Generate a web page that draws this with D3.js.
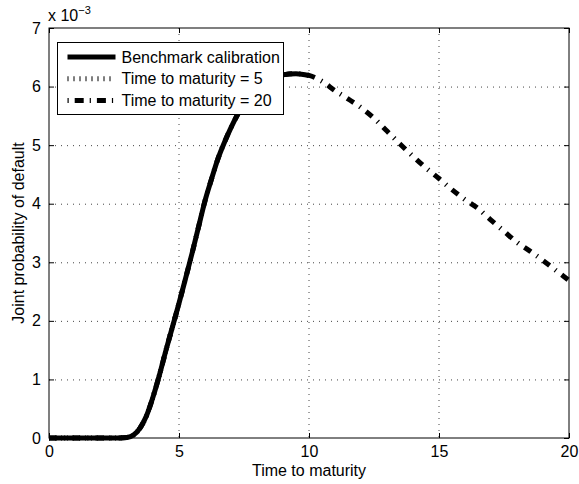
<!DOCTYPE html>
<html>
<head>
<meta charset="utf-8">
<script src="https://cdn.jsdelivr.net/npm/d3@7"></script>
<style>
  body { margin: 0; background: #fff; }
  svg { display: block; font-family: "Liberation Sans", Arial, sans-serif; }
</style>
</head>
<body>
<div id="chart"></div>
<script>
// time to maturity (years)
var times = [0, 0.5, 1, 1.5, 2, 2.5, 3, 3.25, 3.5, 3.75, 4, 4.25, 4.5, 4.75, 5,
  5.25, 5.5, 5.75, 6, 6.25, 6.5, 6.75, 7, 7.25, 7.5, 8, 8.5, 9, 9.5, 10,
  10.5, 11, 11.5, 12, 12.5, 13, 13.5, 14, 14.5, 15, 15.5, 16, 16.5, 17,
  17.5, 18, 18.5, 19, 19.5, 20];
// joint probability of default, in units of 1e-3
var jointPd = [0, 0, 0, 0, 0, 0, 0.01, 0.05, 0.17, 0.38, 0.7, 1.08, 1.5, 1.9, 2.3,
  2.72, 3.15, 3.6, 4.05, 4.42, 4.77, 5.05, 5.3, 5.52, 5.7, 5.96, 6.12, 6.2, 6.22, 6.19,
  6.09, 5.93, 5.79, 5.64, 5.46, 5.24, 5.02, 4.81, 4.61, 4.43, 4.24, 4.07, 3.92, 3.72,
  3.53, 3.34, 3.19, 3.03, 2.86, 2.69];
var seriesNames = ["Benchmark calibration", "Time to maturity = 5", "Time to maturity = 20"];
var seriesEnd = [10, 5, 20];
var xTicks = [0, 5, 10, 15, 20];
var yTicks = [0, 1, 2, 3, 4, 5, 6, 7];

var width = 579, height = 484;
var margin = {top: 28, right: 10, bottom: 46, left: 49};
var w = width - margin.left - margin.right,
    h = height - margin.top - margin.bottom;
var fs = "16px";

var svg = d3.select("#chart").append("svg")
  .attr("width", width)
  .attr("height", height);
var main = svg.append("g")
  .attr("transform", "translate(" + margin.left + "," + margin.top + ")");

var x = d3.scaleLinear().domain([0, 20]).range([0, w]);
var y = d3.scaleLinear().domain([0, 7]).range([h, 0]);

// grid
main.append("g").selectAll("line").data(xTicks.slice(1, -1)).enter().append("line")
  .attr("x1", function (d) { return x(d); }).attr("x2", function (d) { return x(d); })
  .attr("y1", 0).attr("y2", h)
  .attr("stroke", "#444").attr("stroke-width", 1).attr("stroke-dasharray", "1,5");
main.append("g").selectAll("line").data(yTicks.slice(1, -1)).enter().append("line")
  .attr("y1", function (d) { return y(d) + 0.5; }).attr("y2", function (d) { return y(d) + 0.5; })
  .attr("x1", 0).attr("x2", w)
  .attr("stroke", "#444").attr("stroke-width", 1).attr("stroke-dasharray", "1,5");

// axes, ticks inside like matlab
var fmt = d3.format("d");
var axB = d3.axisBottom(x).tickValues(xTicks).tickSize(-5).tickPadding(8).tickFormat(fmt);
var axL = d3.axisLeft(y).tickValues(yTicks).tickSize(-5).tickPadding(8).tickFormat(fmt);
var axT = d3.axisTop(x).tickValues(xTicks).tickSize(-5).tickFormat("");
var axR = d3.axisRight(y).tickValues(yTicks).tickSize(-5).tickFormat("");

[ [axB, "translate(0," + h + ")"], [axL, null], [axT, null], [axR, "translate(" + w + ",0)"] ]
  .forEach(function (a) {
    var g = main.append("g").call(a[0]);
    if (a[1]) g.attr("transform", a[1]);
    g.select(".domain").remove();
    g.selectAll("text").attr("font-size", fs).attr("fill", "#000")
      .style("font-family", "Liberation Sans, Arial, sans-serif");
  });

main.append("rect")
  .attr("x", 0).attr("y", 0).attr("width", w).attr("height", h)
  .attr("fill", "none").attr("stroke", "#000").attr("stroke-width", 1);

// exponent label
var ex = svg.append("text")
  .attr("x", 48).attr("y", 21)
  .attr("font-size", fs);
ex.append("tspan").text("x 10");
ex.append("tspan").attr("dy", -7).attr("font-size", "11px").text("\u22123");

// lines
var pts = times.map(function (t, i) { return [t, jointPd[i]]; });
var line = d3.line()
  .curve(d3.curveMonotoneX)
  .x(function (d) { return x(d[0]); })
  .y(function (d) { return y(d[1]); });

var styles = [
  {dash: null, width: 5},
  {dash: "1,5", width: 5},
  {dash: "8,7,1.2,7", width: 5}
];
var drawOrder = [2, 1, 0];
main.selectAll("path.series").data(drawOrder).enter().append("path")
  .attr("class", "series")
  .attr("d", function (k) {
    return line(pts.filter(function (p) { return p[0] <= seriesEnd[k]; }));
  })
  .attr("fill", "none")
  .attr("stroke", "#000")
  .attr("stroke-width", function (k) { return styles[k].width; })
  .attr("stroke-dasharray", function (k) { return styles[k].dash; })
  .attr("stroke-linecap", "butt");

// legend
var leg = svg.append("g").attr("transform", "translate(57.5,42.5)");
leg.append("rect")
  .attr("width", 226).attr("height", 72)
  .attr("fill", "#fff").attr("stroke", "#000").attr("stroke-width", 1);
var rows = leg.selectAll("g.row").data(seriesNames).enter().append("g")
  .attr("transform", function (d, i) { return "translate(0," + (14.5 + i * 21.7) + ")"; });
rows.append("line")
  .attr("x1", 10).attr("x2", 58).attr("y1", 0).attr("y2", 0)
  .attr("stroke", "#000")
  .attr("stroke-width", function (d, i) { return styles[i].width; })
  .attr("stroke-dasharray", function (d, i) { return styles[i].dash ? (i === 2 ? "1.2,6,9,6" : styles[i].dash) : null; });
rows.append("text")
  .attr("x", 64).attr("y", 5.5)
  .attr("font-size", fs)
  .text(function (d) { return d; });

// axis titles
svg.append("text")
  .attr("x", margin.left + w / 2).attr("y", 476)
  .attr("text-anchor", "middle").attr("font-size", fs)
  .text("Time to maturity");
svg.append("text")
  .attr("transform", "translate(24," + (margin.top + h / 2) + ") rotate(-90)")
  .attr("text-anchor", "middle").attr("font-size", fs)
  .text("Joint probability of default");
</script>
</body>
</html>
